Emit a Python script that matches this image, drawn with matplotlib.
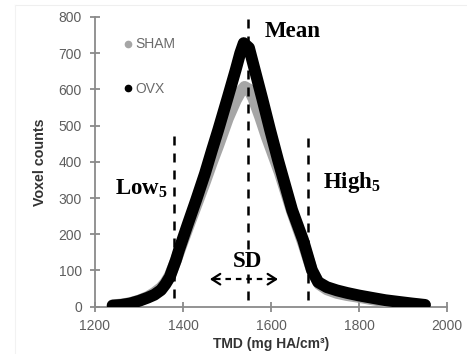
import matplotlib
matplotlib.use('Agg')
import matplotlib.pyplot as plt
from matplotlib.lines import Line2D

# ---------------- data ----------------
ovx_x = [1240, 1260, 1280, 1300, 1320, 1335, 1350, 1360, 1370, 1384, 1391, 1410,
         1430, 1450, 1466, 1480, 1502, 1520, 1530, 1538, 1550, 1559, 1580, 1598,
         1616, 1648, 1673, 1693, 1707, 1727, 1750, 1773, 1800, 1832, 1860, 1893,
         1920, 1950]
ovx_y = [3, 5, 9, 16, 25, 33, 46, 62, 82, 129, 157, 225,
         295, 368, 433, 488, 579, 655, 700, 728, 715, 673, 575, 488,
         405, 267, 184, 101, 68, 54, 45, 38, 31, 24, 18, 13,
         9, 5]

sham_x = [1240, 1260, 1280, 1300, 1320, 1335, 1350, 1360, 1370, 1384, 1391, 1410,
          1430, 1450, 1466, 1480, 1502, 1520, 1530, 1540, 1550, 1560, 1575, 1590,
          1605, 1620, 1648, 1673, 1693, 1710, 1727, 1750, 1773, 1800, 1832, 1860,
          1893, 1920, 1950]
sham_y = [4, 6, 10, 17, 27, 38, 52, 66, 86, 128, 152, 215,
          280, 345, 400, 445, 520, 570, 592, 607, 600, 575, 525, 470,
          420, 370, 262, 176, 100, 62, 48, 38, 32, 27, 20, 15,
          10, 7, 4]

series_names = ['SHAM', 'OVX']
series_colors = ['#a6a6a6', '#000000']

low5 = 1380
mean_tmd = 1548
high5 = 1685
sd_left = 1461
sd_right = 1616

x_ticks = [1200, 1400, 1600, 1800, 2000]
y_ticks = [0, 100, 200, 300, 400, 500, 600, 700, 800]

# ---------------- figure ----------------
plt.rcParams['mathtext.fontset'] = 'custom'
plt.rcParams['mathtext.rm'] = 'Liberation Serif:bold'
plt.rcParams['mathtext.bf'] = 'Liberation Serif:bold'
plt.rcParams['mathtext.it'] = 'Liberation Serif:bold'

fig = plt.figure(figsize=(4.67, 3.54), dpi=100)
W, H = 467.0, 354.0
ax = fig.add_axes([95 / W, (H - 306.7) / H, 352 / W, 289.7 / H])

# faint border of the original image
fig.add_artist(Line2D([15 / W, 1], [1 - 5 / H, 1 - 5 / H], color='#efefef', lw=0.8))
fig.add_artist(Line2D([15 / W, 15 / W], [0, 1 - 5 / H], color='#f2f2f2', lw=0.8))

ax.plot(sham_x, sham_y, color=series_colors[0], lw=8.5, solid_capstyle='round',
        solid_joinstyle='round', zorder=3)
ax.plot(ovx_x, ovx_y, color=series_colors[1], lw=8.5, solid_capstyle='round',
        solid_joinstyle='round', zorder=4)

ax.set_xlim(1200, 2000)
ax.set_ylim(0, 800)
ax.set_xticks(x_ticks)
ax.set_yticks(y_ticks)

for s in ['top', 'right']:
    ax.spines[s].set_visible(False)
for s in ['left', 'bottom']:
    ax.spines[s].set_color('#8a8a8a')
    ax.spines[s].set_linewidth(1.3)

ax.tick_params(direction='inout', length=7, width=1.3, color='#8a8a8a',
               labelcolor='#5e5e5e', labelsize=10)
ax.tick_params(axis='y', pad=6)
ax.tick_params(axis='x', pad=5)
for lab in ax.get_xticklabels() + ax.get_yticklabels():
    lab.set_fontfamily('Liberation Sans')

ax.set_ylabel('Voxel counts', fontfamily='Liberation Sans', fontweight='bold',
              fontsize=10.3, color='#333333', labelpad=8)
ax.set_xlabel('TMD (mg HA/cm³)', fontfamily='Liberation Sans', fontweight='bold',
              fontsize=10, color='#333333', labelpad=3)

# dashed reference lines
dash = (0, (3.6, 3.2))
ax.plot([low5, low5], [25, 494], color='black', lw=1.8, ls=dash, zorder=5)
ax.plot([mean_tmd, mean_tmd], [18, 812], color='black', lw=1.8, ls=dash,
        zorder=5, clip_on=False)
ax.plot([high5, high5], [18, 474], color='black', lw=1.8, ls=dash, zorder=5)

# annotations
serif = 'Liberation Serif'
ax.text(1586, 745, 'Mean', family=serif, fontweight='bold', fontsize=16.5,
        ha='left', va='baseline')
ax.text(1245, 308, r'Low$_\mathrm{5}$', family=serif, fontweight='bold',
        fontsize=16.5, ha='left', va='baseline')
ax.text(1718, 328, r'High$_\mathrm{5}$', family=serif, fontweight='bold',
        fontsize=16.5, ha='left', va='baseline')
ax.text(1514, 110, 'SD', family=serif, fontweight='bold', fontsize=16.5,
        ha='left', va='baseline')

y_sd = 76
ax.plot([sd_left + 12, sd_right - 12], [y_sd, y_sd], color='black', lw=1.6,
        ls=(0, (2.5, 2.2)), zorder=5)
head = dict(arrowstyle='->,head_length=0.6,head_width=0.38', lw=1.6,
            color='black', shrinkA=0, shrinkB=0)
ax.annotate('', xy=(sd_left, y_sd), xytext=(sd_left + 12, y_sd), arrowprops=head)
ax.annotate('', xy=(sd_right, y_sd), xytext=(sd_right - 12, y_sd), arrowprops=head)

# legend
handles = [Line2D([], [], ls='none', marker='o', markersize=4.5,
                  markerfacecolor=c, markeredgecolor=c) for c in series_colors]
leg = ax.legend(handles, series_names, loc='upper left',
                bbox_to_anchor=((125 - 95) / 352, (306.7 - 37.5) / 289.7),
                frameon=False, handlelength=0.5, handletextpad=0.25,
                labelspacing=2.22, borderaxespad=0, borderpad=0,
                prop={'family': 'Liberation Sans', 'size': 10})
for t in leg.get_texts():
    t.set_color('#6a6a6a')

fig.savefig('out.png', dpi=100)
